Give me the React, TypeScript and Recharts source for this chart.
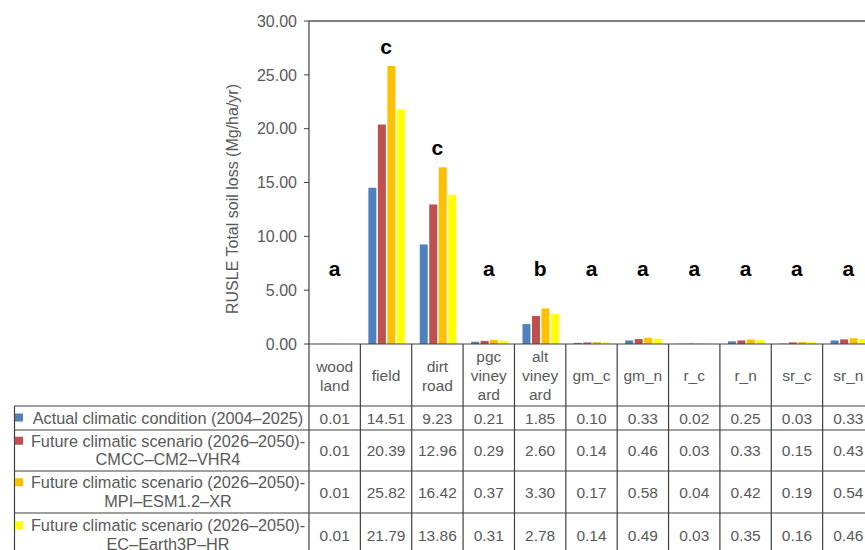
import React from 'react';
import { ComposedChart, Bar, Line, XAxis, YAxis, Legend, ReferenceLine, LabelList } from 'recharts';

// ---------- data ----------
const categories = [
  'wood\nland', 'field', 'dirt\nroad', 'pgc\nviney\nard', 'alt\nviney\nard',
  'gm_c', 'gm_n', 'r_c', 'r_n', 'sr_c', 'sr_n',
];
const actual = [0.01, 14.51, 9.23, 0.21, 1.85, 0.10, 0.33, 0.02, 0.25, 0.03, 0.33];
const cmcc = [0.01, 20.39, 12.96, 0.29, 2.60, 0.14, 0.46, 0.03, 0.33, 0.15, 0.43];
const mpi = [0.01, 25.82, 16.42, 0.37, 3.30, 0.17, 0.58, 0.04, 0.42, 0.19, 0.54];
const ecEarth = [0.01, 21.79, 13.86, 0.31, 2.78, 0.14, 0.49, 0.03, 0.35, 0.16, 0.46];
const letters = ['a', 'c', 'c', 'a', 'b', 'a', 'a', 'a', 'a', 'a', 'a'];
const letterHeights = [6.3, 26.9, 17.6, 6.3, 6.3, 6.3, 6.3, 6.3, 6.3, 6.3, 6.3];
const yTicks = [0, 5, 10, 15, 20, 25, 30];
const seriesKeys = ['actual', 'cmcc', 'mpi', 'ecEarth'];
const seriesValues = [actual, cmcc, mpi, ecEarth];
const seriesNames = [
  'Actual climatic condition (2004–2025)',
  'Future climatic scenario (2026–2050)-\nCMCC–CM2–VHR4',
  'Future climatic scenario (2026–2050)-\nMPI–ESM1.2–XR',
  'Future climatic scenario (2026–2050)-\nEC–Earth3P–HR',
];
const seriesColors = ['#4F81BD', '#C0504D', '#FFC000', '#FFFF00'];
const yAxisTitle = 'RUSLE Total soil loss (Mg/ha/yr)';

const data = categories.map((c, i) => ({
  cat: c,
  actual: actual[i],
  cmcc: cmcc[i],
  mpi: mpi[i],
  ecEarth: ecEarth[i],
  letter: letters[i],
  letterY: letterHeights[i],
}));

// ---------- layout ----------
const FONT = '"Liberation Sans", Arial, Helvetica, sans-serif';
const TEXT = '#595959';
const LINE = '#404040';
const CHART_W = 880;
const CHART_H = 560;
const PLOT_LEFT = 309;
const PLOT_TOP = 21;
const PLOT_BOTTOM = 344;
const PLOT_RIGHT_MARGIN = 6;
const PLOT_W = CHART_W - PLOT_LEFT - PLOT_RIGHT_MARGIN;
const BAND = PLOT_W / categories.length;
const ROW_TOPS = [406, 430, 471, 513];
const ROW_BOTTOMS = [430, 471, 513, 557];
const LEGEND_LEFT = 14;
const FS = 15.5;
const LEGEND_FS = 16.3;

const rowCenter = (r: number) => (ROW_TOPS[r] + ROW_BOTTOMS[r]) / 2;

const TableTick = (props: any) => {
  const { x, index } = props;
  const i = typeof index === 'number' ? index : categories.indexOf(props.payload?.value);
  const x0 = x - BAND / 2;
  const x1 = x + BAND / 2;
  const lines = categories[i].split('\n');
  const catCenter = 381;
  return (
    <g>
      <line x1={x0} x2={x0} y1={PLOT_BOTTOM} y2={CHART_H} stroke={LINE} strokeWidth={1.2} />
      {i === categories.length - 1 && (
        <line x1={x1} x2={x1} y1={PLOT_BOTTOM} y2={CHART_H} stroke={LINE} strokeWidth={1.2} />
      )}
      {ROW_TOPS.map((yy) => (
        <line key={yy} x1={x0} x2={x1} y1={yy} y2={yy} stroke={LINE} strokeWidth={1.2} />
      ))}
      {lines.map((t, k) => (
        <text
          key={k}
          x={x}
          y={catCenter + (k - (lines.length - 1) / 2) * 19}
          textAnchor="middle"
          fill={TEXT}
          fontSize={FS}
          fontFamily={FONT}
        >
          {t}
        </text>
      ))}
      {seriesValues.map((vals, r) => (
        <text
          key={r}
          x={x}
          y={rowCenter(r) + 5.5}
          textAnchor="middle"
          fill={TEXT}
          fontSize={FS}
          fontFamily={FONT}
        >
          {vals[i].toFixed(2)}
        </text>
      ))}
    </g>
  );
};

const LegendTable = (props: any) => {
  const payload = (props.payload || [])
    .filter((p: any) => seriesKeys.includes(p.dataKey))
    .slice()
    .sort((a: any, b: any) => seriesKeys.indexOf(a.dataKey) - seriesKeys.indexOf(b.dataKey));
  const w = PLOT_LEFT - LEGEND_LEFT;
  const top = ROW_TOPS[0];
  const h = CHART_H - top;
  return (
    <svg width={w + 2} height={h} style={{ display: 'block', overflow: 'visible' }}>
      <line x1={0.5} x2={0.5} y1={0} y2={h} stroke={LINE} strokeWidth={1.2} />
      {ROW_TOPS.map((yy) => (
        <line key={yy} x1={0} x2={w} y1={yy - top} y2={yy - top} stroke={LINE} strokeWidth={1.2} />
      ))}
      {payload.map((p: any, r: number) => {
        const lines = String(p.value).split('\n');
        const c = rowCenter(r) - top + 5.5;
        return (
          <g key={p.dataKey}>
            {lines.map((t, k) => {
              const by = c + (k - (lines.length - 1) / 2) * 18.5;
              return (
                <g key={k}>
                  {k === 0 && (
                    <rect x={1} y={by - 10} width={8} height={8} fill={p.color} />
                  )}
                  <text
                    x={154}
                    y={by}
                    textAnchor="middle"
                    fill={TEXT}
                    fontSize={LEGEND_FS}
                    fontFamily={FONT}
                  >
                    {t}
                  </text>
                </g>
              );
            })}
          </g>
        );
      })}
    </svg>
  );
};

const LetterLabel = (props: any) => {
  const { x, y, value } = props;
  return (
    <text x={x} y={y} textAnchor="middle" fill="#000" fontSize={21} fontWeight="bold" fontFamily={FONT}>
      {value}
    </text>
  );
};

const YTitle = () => (
  <text
    transform={`translate(238, 199) rotate(-90)`}
    textAnchor="middle"
    fill={TEXT}
    fontSize={16}
    fontFamily={FONT}
  >
    {yAxisTitle}
  </text>
);

export default function App() {
  return (
    <div style={{ position: 'absolute', left: 0, top: 0, width: 865, height: 550, overflow: 'hidden', background: '#fff' }}>
      <ComposedChart
        width={CHART_W}
        height={CHART_H}
        data={data}
        margin={{ top: PLOT_TOP, right: PLOT_RIGHT_MARGIN, bottom: 0, left: 0 }}
        barCategoryGap="15.6%"
        barGap={1.5}
        style={{ fontFamily: FONT }}
      >
        <XAxis
          dataKey="cat"
          interval={0}
          height={CHART_H - PLOT_BOTTOM}
          tickLine={false}
          axisLine={{ stroke: LINE, strokeWidth: 1.2 }}
          tick={<TableTick />}
        />
        <YAxis
          width={PLOT_LEFT}
          domain={[0, 30]}
          ticks={yTicks}
          tickFormatter={(v: number) => v.toFixed(2)}
          tick={{ fill: TEXT, fontSize: 16, fontFamily: FONT }}
          tickSize={5}
          tickMargin={7}
          tickLine={{ stroke: LINE }}
          axisLine={{ stroke: LINE, strokeWidth: 1.2 }}
          label={{ content: () => <YTitle /> }}
        />
        <ReferenceLine y={30} stroke="#555" strokeWidth={1.6} />
        {seriesKeys.map((k, s) => (
          <Bar
            key={k}
            dataKey={k}
            name={seriesNames[s]}
            fill={seriesColors[s]}
            isAnimationActive={false}
          />
        ))}
        <Line
          dataKey="letterY"
          stroke="none"
          dot={false}
          activeDot={false}
          legendType="none"
          isAnimationActive={false}
        >
          <LabelList dataKey="letter" content={<LetterLabel />} />
        </Line>
        <Legend
          layout="horizontal"
          verticalAlign="middle"
          align="center"
          content={<LegendTable />}
          wrapperStyle={{ position: 'absolute', left: LEGEND_LEFT, top: ROW_TOPS[0], width: PLOT_LEFT - LEGEND_LEFT + 2, height: CHART_H - ROW_TOPS[0] }}
        />
      </ComposedChart>
    </div>
  );
}
